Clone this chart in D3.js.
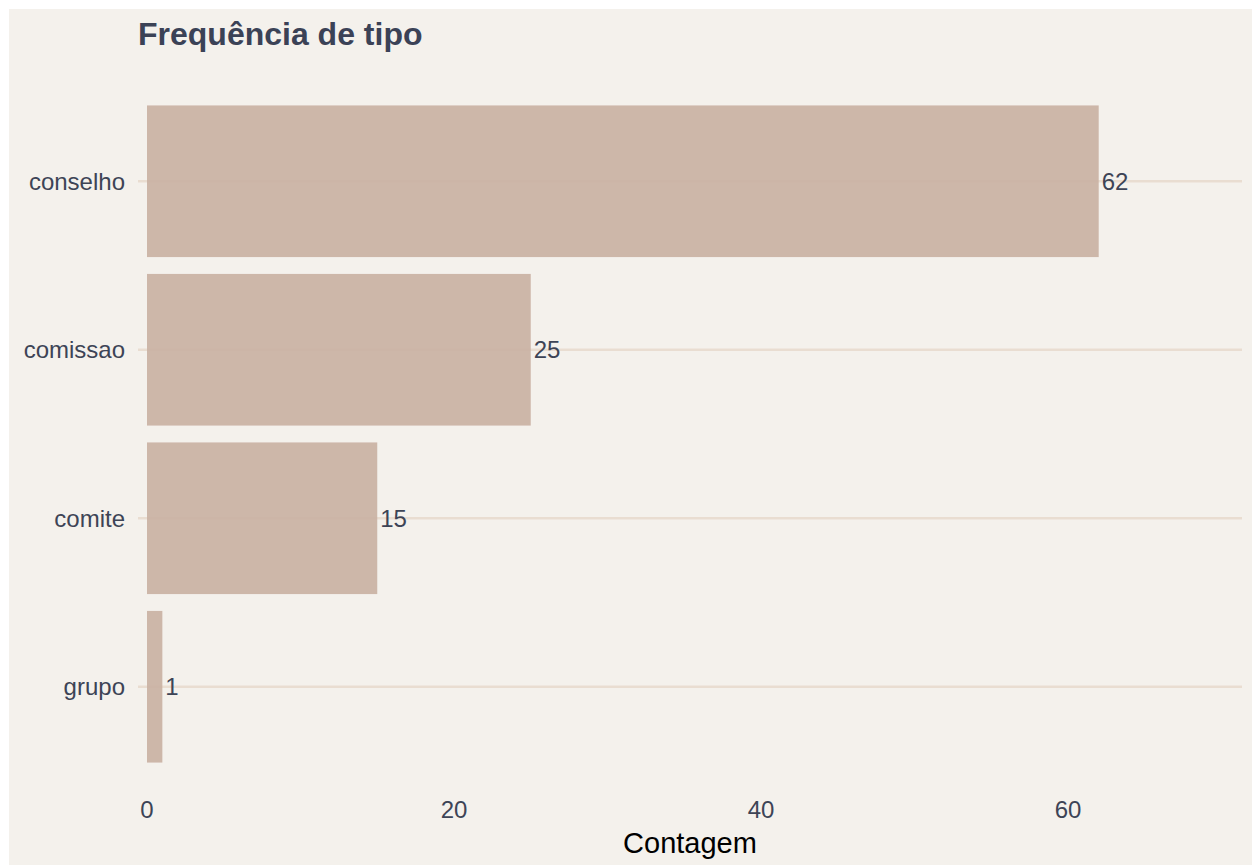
<!DOCTYPE html>
<html><head><meta charset="utf-8">
<script src="https://cdn.jsdelivr.net/npm/d3@7"></script>
<style>body{margin:0;background:#fff;} text{font-family:"Liberation Sans",Arial,sans-serif;}</style>
</head><body>
<svg id="c" width="1252" height="865"></svg>
<script>
const categories = ["conselho", "comissao", "comite", "grupo"];
const counts = [62, 25, 15, 1];
const xTicks = [0, 20, 40, 60];
const title = "Frequência de tipo";
const xLabel = "Contagem";

const svg = d3.select("#c");
svg.append("rect").attr("x", 9).attr("y", 9).attr("width", 1243).attr("height", 856).attr("fill", "#f4f1ec");

const panelLeft = 138, panelRight = 1242, panelTop = 97, panelBottom = 771;
const x = d3.scaleLinear().domain([0, 60]).range([147, 1068]);
const y = d3.scaleBand().domain(categories).range([panelTop, panelBottom]).paddingInner(0.1).paddingOuter(0.05);

// gridlines
svg.append("g").selectAll("line").data(categories).join("line")
  .attr("x1", panelLeft).attr("x2", panelRight)
  .attr("y1", d => y(d) + y.bandwidth() / 2).attr("y2", d => y(d) + y.bandwidth() / 2)
  .attr("stroke", "#e9ddd1").attr("stroke-width", 2.5);

// bars
svg.append("g").selectAll("rect").data(categories).join("rect")
  .attr("x", x(0)).attr("y", d => y(d))
  .attr("width", (d, i) => x(counts[i]) - x(0)).attr("height", y.bandwidth())
  .attr("fill", "#c9b0a2").attr("fill-opacity", 0.9);

// value labels
svg.append("g").selectAll("text").data(categories).join("text")
  .attr("x", (d, i) => x(counts[i]) + 3).attr("y", d => y(d) + y.bandwidth() / 2)
  .attr("dy", "0.35em").attr("font-size", 24).attr("fill", "#3d4456")
  .text((d, i) => counts[i]);

// y axis labels
svg.append("g").selectAll("text").data(categories).join("text")
  .attr("x", 125).attr("y", d => y(d) + y.bandwidth() / 2)
  .attr("dy", "0.35em").attr("text-anchor", "end").attr("font-size", 24).attr("fill", "#3d4456")
  .text(d => d);

// x axis labels
svg.append("g").selectAll("text").data(xTicks).join("text")
  .attr("x", d => x(d)).attr("y", 818).attr("text-anchor", "middle")
  .attr("font-size", 24).attr("fill", "#3d4456").text(d => d);

svg.append("text").attr("x", (panelLeft + panelRight) / 2).attr("y", 853)
  .attr("text-anchor", "middle").attr("font-size", 29).attr("fill", "#000").text(xLabel);

svg.append("text").attr("x", 138).attr("y", 45).attr("font-size", 32).attr("font-weight", "bold")
  .attr("fill", "#3b4256").text(title);
</script>
</body></html>
